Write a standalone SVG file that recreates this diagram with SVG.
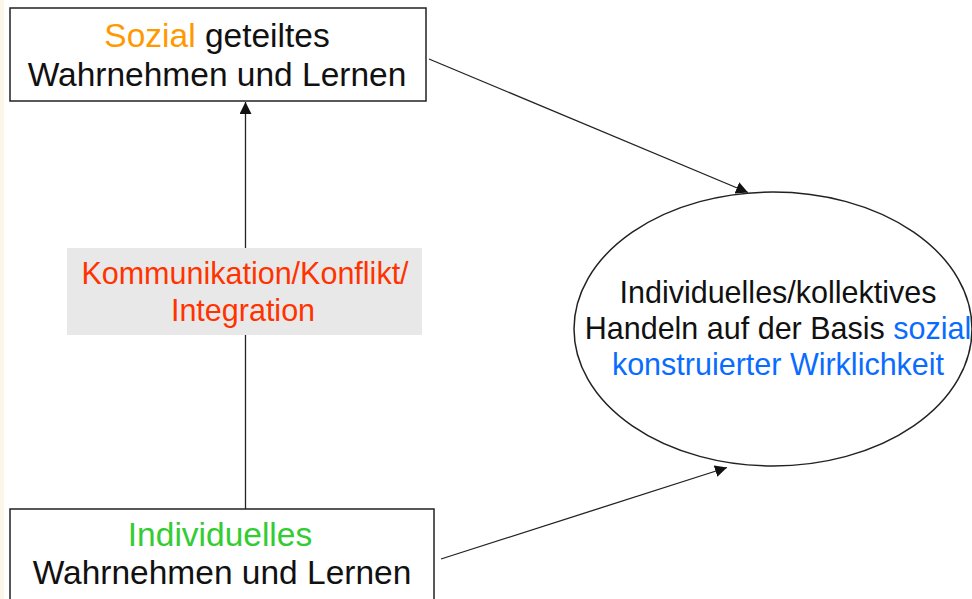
<svg xmlns="http://www.w3.org/2000/svg" width="972" height="599" viewBox="0 0 972 599">
  <style>
    .box { fill: #ffffff; stroke: #222222; stroke-width: 1.5; }
    .edge { fill: none; stroke: #222222; stroke-width: 1.3; }
    .t { font-family: "Liberation Sans", Arial, sans-serif; fill: #111111; text-anchor: middle; }
    .big { font-size: 33.5px; }
    .mid { font-size: 30.5px; }
    .orange { fill: #ff9900; }
    .green { fill: #33cc33; }
    .red { fill: #ff3300; }
    .blue { fill: #0a6cff; }
  </style>
  <defs>
    <marker id="arrow" markerUnits="userSpaceOnUse" markerWidth="13" markerHeight="12" refX="12" refY="6" orient="auto">
      <path d="M0,0 L12,6 L0,12 z" fill="#111111"/>
    </marker>
  </defs>

  <rect x="0" y="0" width="972" height="599" fill="#ffffff"/>
  <rect x="0" y="0" width="4" height="599" fill="#fcf5ea"/>

  <!-- connectors -->
  <g id="connectors">
    <line class="edge" x1="245.5" y1="509" x2="245.5" y2="102" marker-end="url(#arrow)"/>
    <line class="edge" x1="429" y1="59" x2="748" y2="192.5" marker-end="url(#arrow)"/>
    <line class="edge" x1="441" y1="559" x2="727" y2="467.5" marker-end="url(#arrow)"/>
  </g>

  <!-- label on the vertical connector -->
  <g id="label-kommunikation">
    <rect x="67" y="248" width="355" height="87" fill="#e8e8e8"/>
    <text class="t mid red" x="245" y="284">Kommunikation/Konflikt/</text>
    <text class="t mid red" x="243" y="321">Integration</text>
  </g>

  <g id="node-sozial">
    <rect class="box" x="10" y="8" width="416" height="93"/>
    <text class="t big" x="217" y="47"><tspan class="orange">Sozial</tspan> geteiltes</text>
    <text class="t big" x="217" y="86">Wahrnehmen und Lernen</text>
  </g>

  <g id="node-individuell">
    <rect class="box" x="10" y="509" width="424" height="100"/>
    <text class="t big green" x="220" y="546">Individuelles</text>
    <text class="t big" x="222" y="584">Wahrnehmen und Lernen</text>
  </g>

  <g id="node-handeln">
    <ellipse class="box" cx="773" cy="329" rx="199" ry="137" stroke-width="1.3"/>
    <text class="t mid" x="778" y="303">Individuelles/kollektives</text>
    <text class="t mid" x="778" y="339">Handeln auf der Basis <tspan class="blue">sozial</tspan></text>
    <text class="t mid blue" x="778" y="375">konstruierter Wirklichkeit</text>
  </g>
</svg>
